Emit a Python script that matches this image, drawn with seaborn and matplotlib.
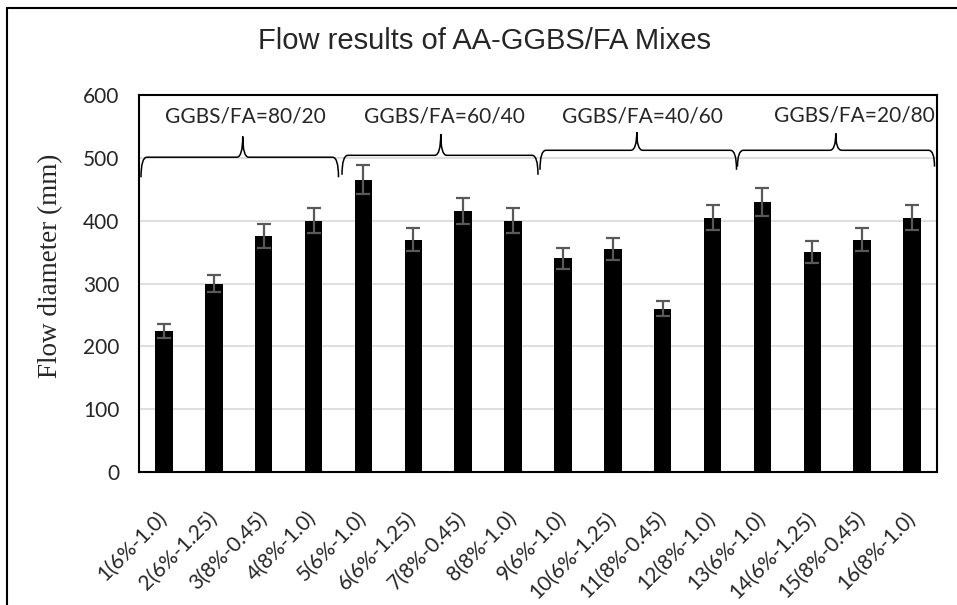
import matplotlib
matplotlib.use("Agg")
import matplotlib.pyplot as plt
import seaborn as sns
import pandas as pd
import numpy as np
from matplotlib.path import Path
from matplotlib.patches import PathPatch
from matplotlib.lines import Line2D

# ---- data ----
mixes = ["1(6%-1.0)", "2(6%-1.25)", "3(8%-0.45)", "4(8%-1.0)",
         "5(6%-1.0)", "6(6%-1.25)", "7(8%-0.45)", "8(8%-1.0)",
         "9(6%-1.0)", "10(6%-1.25)", "11(8%-0.45)", "12(8%-1.0)",
         "13(6%-1.0)", "14(6%-1.25)", "15(8%-0.45)", "16(8%-1.0)"]
flow = [225, 300, 375, 400, 465, 370, 415, 400,
        340, 355, 260, 405, 430, 350, 370, 405]
flow_err = [11, 14, 19, 20, 23, 18, 21, 20,
            17, 18, 12, 20, 22, 17, 18, 20]
groups = ["GGBS/FA=80/20", "GGBS/FA=60/40", "GGBS/FA=40/60", "GGBS/FA=20/80"]
yticks = [0, 100, 200, 300, 400, 500, 600]

df = pd.DataFrame({"mix": mixes, "flow": flow})

sns.set_theme(style="white")
plt.rcParams["font.family"] = ["Lato", "DejaVu Sans"]

fig = plt.figure(figsize=(9.57, 6.05), dpi=100)
ax = fig.add_axes([139/957, 1-472/605, (937-139)/957, (472-95)/605])

sns.barplot(data=df, x="mix", y="flow", color="black", errorbar=None,
            width=0.35, ax=ax, saturation=1)
for p in ax.patches:
    p.set_linewidth(0)

xpos = np.arange(len(mixes))
ax.errorbar(xpos, flow, yerr=flow_err, fmt="none", ecolor="#595959",
            elinewidth=1.6, capsize=5, capthick=1.6, zorder=3)

ax.set_ylim(0, 600)
ax.set_xlim(-0.5, len(mixes) - 0.5)
ax.set_yticks(yticks)
ax.set_yticklabels([str(v) for v in yticks], fontsize=15)
ax.yaxis.grid(True, color="#d9d9d9", linewidth=1.2)
ax.set_axisbelow(True)
ax.tick_params(axis="y", length=0, pad=14)
ax.tick_params(axis="x", length=0, pad=31)
ax.set_xticks(xpos)
ax.set_xticklabels(mixes, rotation=45, ha="right", va="center",
                   rotation_mode="anchor", fontsize=15)
ax.set_xlabel("")
ax.set_ylabel("Flow diameter (mm)", fontsize=19.5, family=["Liberation Serif"])
ax.yaxis.set_label_coords(-0.095, 0.546)
for s in ax.spines.values():
    s.set_visible(True)
    s.set_color("black")
    s.set_linewidth(1.5)

# ---- braces ----
def brace(x0, x1, xm, yh, ytip, ye, d=0.12):
    verts = [(x0, ye), (x0, yh), (x0 + d, yh),
             (xm - d, yh),
             (xm, yh), (xm, ytip),
             (xm, yh), (xm + d, yh),
             (x1 - d, yh),
             (x1, yh), (x1, ye)]
    codes = [Path.MOVETO, Path.CURVE3, Path.CURVE3,
             Path.LINETO,
             Path.CURVE3, Path.CURVE3,
             Path.CURVE3, Path.CURVE3,
             Path.LINETO,
             Path.CURVE3, Path.CURVE3]
    ax.add_patch(PathPatch(Path(verts, codes), fill=False, edgecolor="black",
                           linewidth=1.1, clip_on=False, zorder=4))

brace(-0.46, 3.50, 1.58, 501, 534, 469)
brace(3.57, 7.50, 5.55, 504, 538, 473)
brace(7.54, 11.48, 9.48, 512, 541, 481)
brace(11.50, 15.45, 13.47, 512, 539, 486)

label_x = [1.64, 5.63, 9.6, 13.85]
label_y = [565, 565, 565, 568]
for g, lx, ly in zip(groups, label_x, label_y):
    ax.text(lx, ly, g, ha="center", va="center", fontsize=15, zorder=5)

fig.text(485/957, 1-41/605, "Flow results of AA-GGBS/FA Mixes",
         ha="center", va="center", fontsize=21, family=["Liberation Sans"])

# figure outer border (top & left visible)
fig.add_artist(Line2D([7/957, 7/957], [0, 1-8/605], transform=fig.transFigure,
                      color="black", linewidth=1.5))
fig.add_artist(Line2D([7/957, 1], [1-8/605, 1-8/605], transform=fig.transFigure,
                      color="black", linewidth=1.5))

fig.savefig("out.png", dpi=100)
